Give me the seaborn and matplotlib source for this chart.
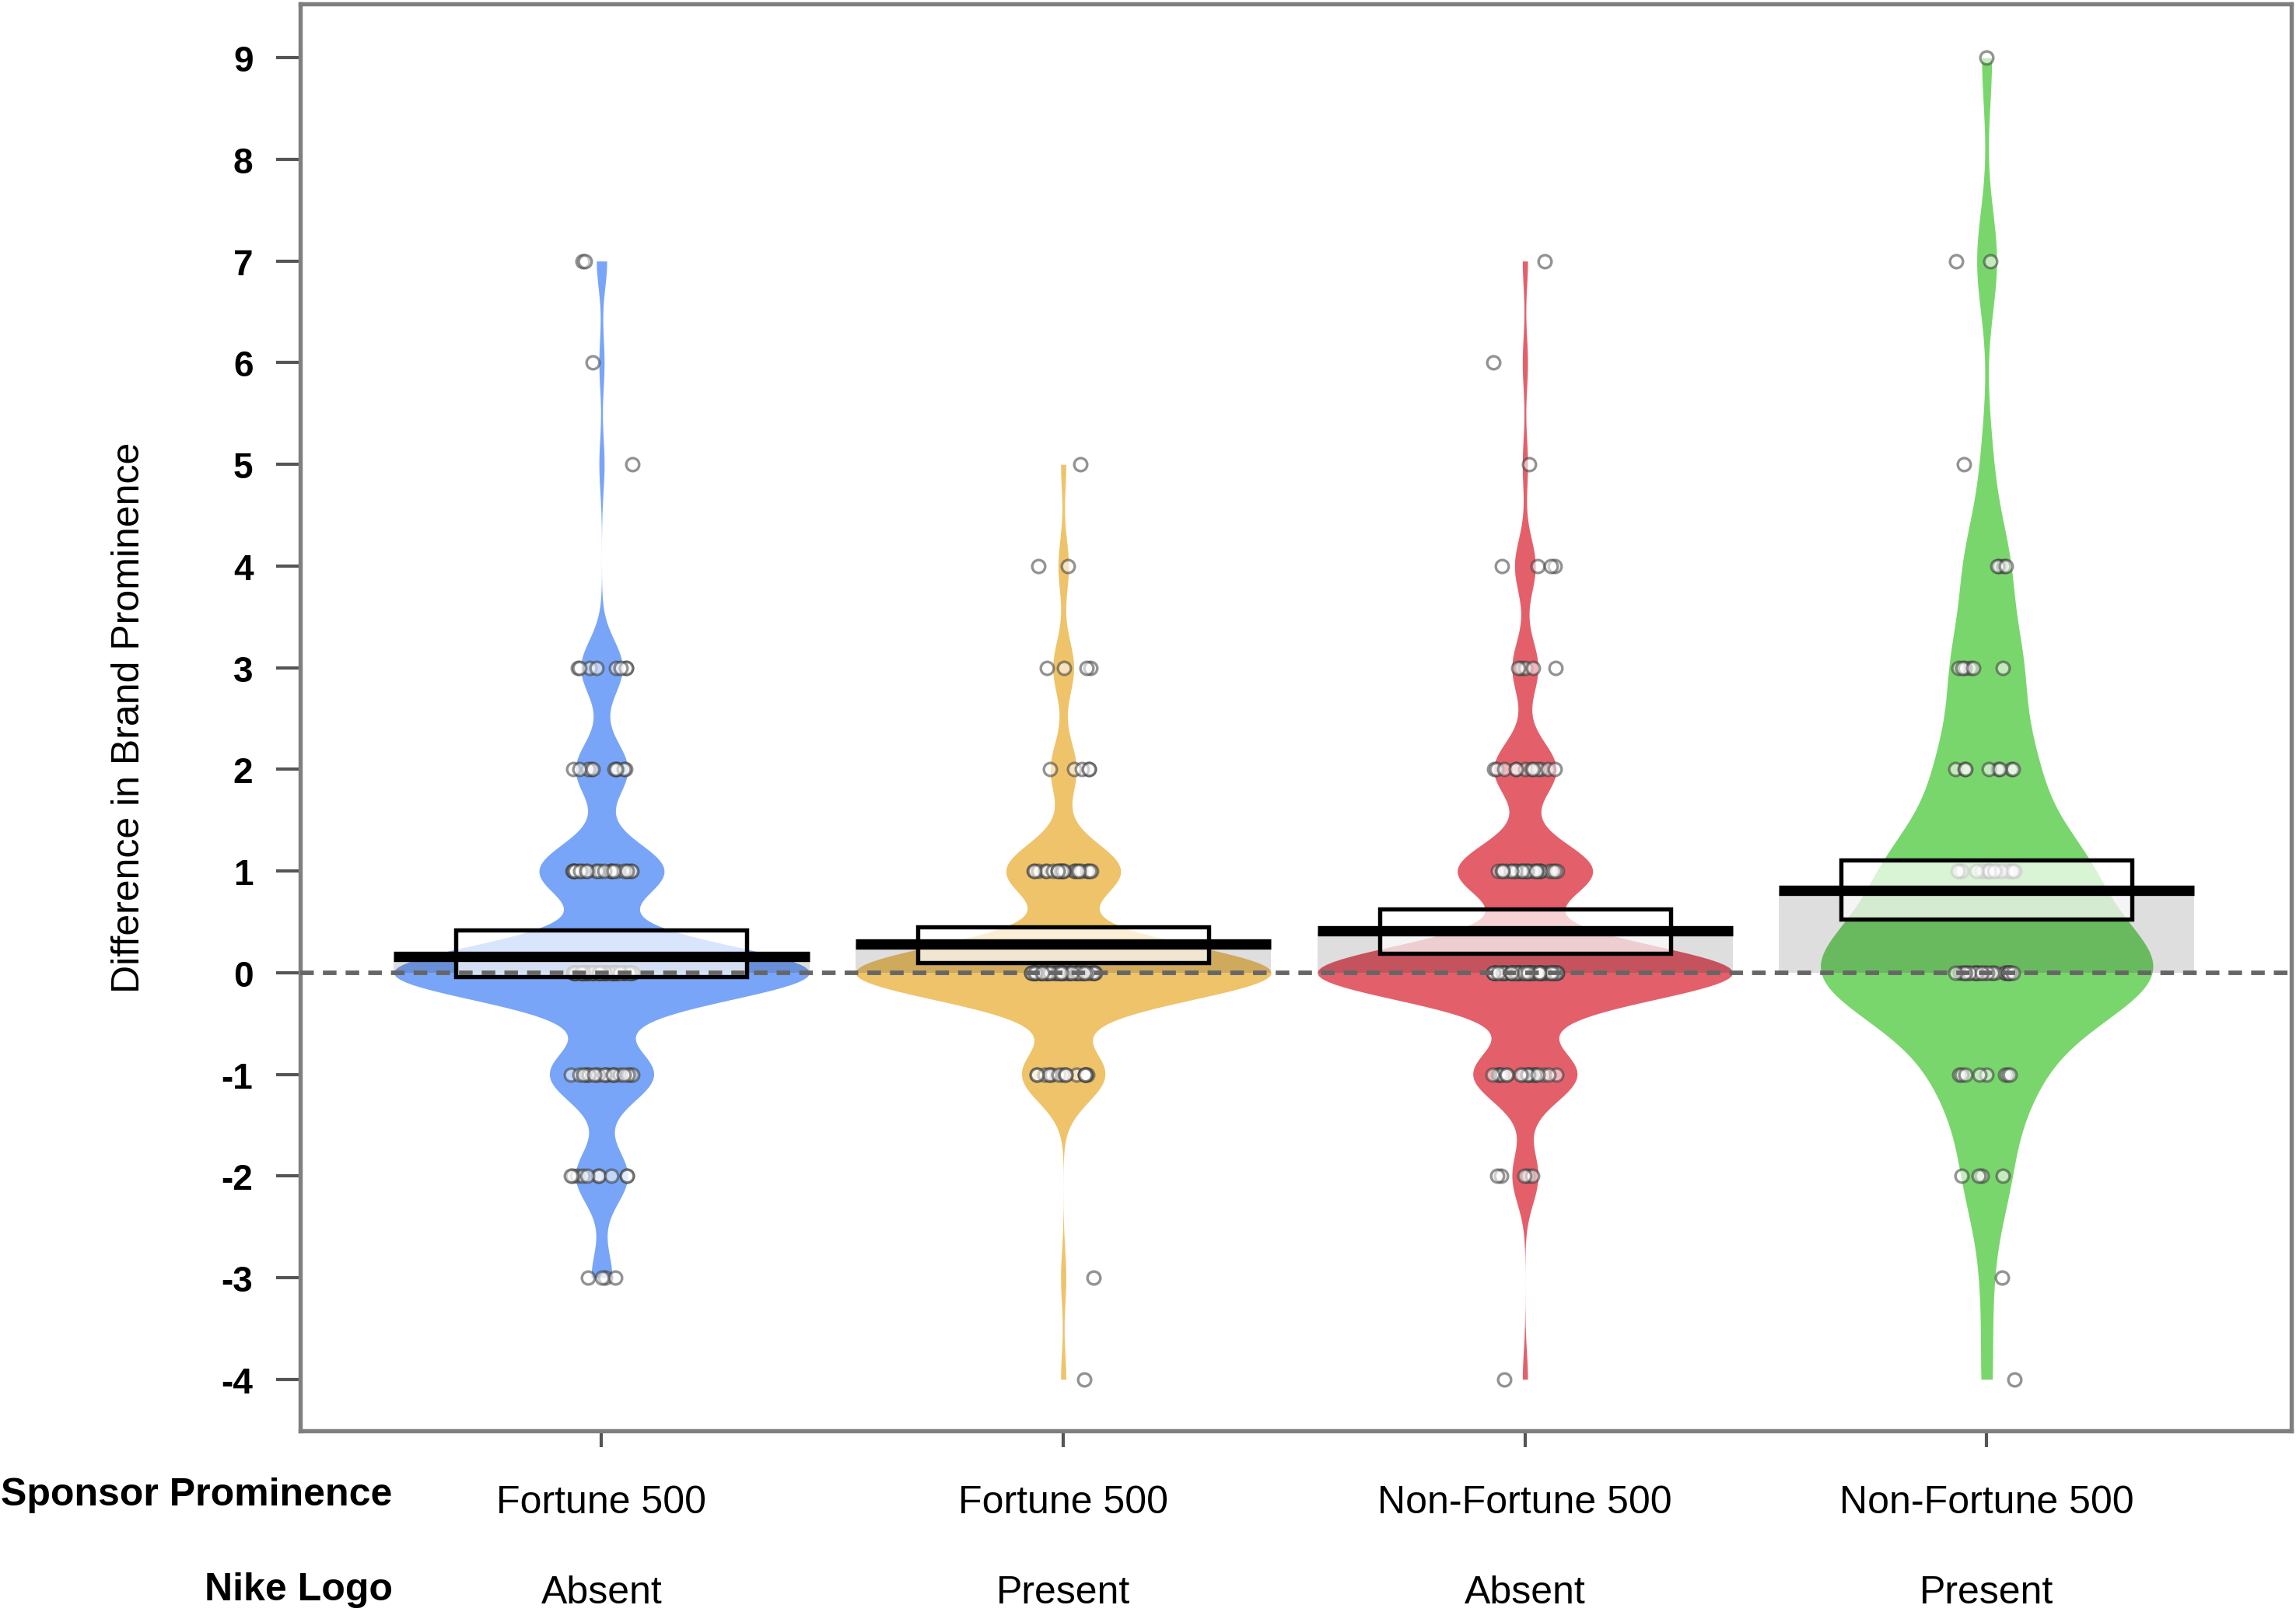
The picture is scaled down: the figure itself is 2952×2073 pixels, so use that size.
import numpy as np
import pandas as pd
import matplotlib
matplotlib.use('Agg')
import matplotlib.pyplot as plt
import matplotlib.transforms as mtransforms
import seaborn as sns

plt.rcParams['font.family'] = ['Liberation Sans', 'DejaVu Sans']
plt.rcParams['axes.unicode_minus'] = False

# Categories (two label rows under the axis)
sponsor = ['Fortune 500', 'Fortune 500', 'Non-Fortune 500', 'Non-Fortune 500']
logo = ['Absent', 'Present', 'Absent', 'Present']

# Score levels and how many observations sit on each level, per group
score_levels = [-4, -3, -2, -1, 0, 1, 2, 3, 4, 5, 6, 7, 8, 9]
counts_f500_absent = [0, 4, 10, 20, 80, 24, 10, 8, 0, 1, 1, 2, 0, 0]
counts_f500_present = [1, 1, 0, 16, 80, 22, 5, 4, 2, 1, 0, 0, 0, 0]
counts_nonf500_absent = [1, 0, 5, 20, 80, 26, 12, 5, 4, 1, 1, 1, 0, 0]
counts_nonf500_present = [1, 1, 4, 8, 30, 17, 8, 6, 4, 1, 0, 2, 0, 1]

# Mean line and HDI box
group_means = [0.16, 0.28, 0.41, 0.81]
hdi_low = [-0.04, 0.10, 0.19, 0.53]
hdi_high = [0.42, 0.45, 0.63, 1.11]

# Styles
bean_colors = ['#78A5F8', '#EEC36A', '#E3606B', '#79D66C']
bean_widths = [0.9, 0.9, 0.9, 0.72]
bean_bw = [0.27, 0.27, 0.27, 0.5]

group_keys = [f"{s} | {l}" for s, l in zip(sponsor, logo)]
all_counts = [counts_f500_absent, counts_f500_present,
              counts_nonf500_absent, counts_nonf500_present]

rows = []
for key, counts in zip(group_keys, all_counts):
    for lvl, n in zip(score_levels, counts):
        rows += [(key, lvl)] * n
df = pd.DataFrame(rows, columns=['group', 'value'])

fig = plt.figure(figsize=(9.84, 6.9133), dpi=300)
ax = fig.add_axes([0.1307, 0.1125, 0.8673, 0.8848])

# Beans (one call per group so each gets its own bandwidth)
for key, col, w, bw in zip(group_keys, bean_colors, bean_widths, bean_bw):
    sub = df[df['group'] == key]
    factor = bw / np.std(sub['value'], ddof=1)
    sns.violinplot(data=sub, x='group', y='value', order=group_keys,
                   color=col, saturation=1, width=w, bw_method=factor,
                   cut=0, inner=None, linewidth=0, density_norm='width',
                   gridsize=400, ax=ax, zorder=2)

# Mean bars (translucent)
sns.barplot(x=group_keys, y=group_means, order=group_keys, width=0.9,
            color='black', alpha=0.13, saturation=1, errorbar=None,
            ax=ax, zorder=3)

# Raw points
np.random.seed(3)
sns.stripplot(data=df, x='group', y='value', order=group_keys, jitter=0.07,
              size=4, color='white', edgecolor='#3a3a3a', linewidth=0.8,
              alpha=0.55, ax=ax, zorder=4)

xs = np.arange(len(group_keys))
# HDI boxes
ax.bar(xs, np.array(hdi_high) - np.array(hdi_low), bottom=hdi_low, width=0.63,
       facecolor=(1, 1, 1, 0.72), edgecolor='black', linewidth=1.3, zorder=5)
# zero reference
ax.axhline(0, color='#666666', lw=1.4, ls=(0, (3, 2)), zorder=6)
# mean lines
ax.hlines(group_means, xs - 0.45, xs + 0.45, colors='black', lw=3.2, zorder=7)

ax.set_xlim(-0.653, 3.66)
ax.set_ylim(-4.504, 9.533)
ax.set_yticks(range(-4, 10))
ax.set_xticks(xs)
ax.set_xticklabels([])
ax.set_xlabel('')
ax.set_ylabel('Difference in Brand Prominence', fontsize=12)
ax.yaxis.set_label_coords(-0.077, 0.5)

for sp in ax.spines.values():
    sp.set_color('#7f7f7f')
    sp.set_linewidth(1.3)
ax.tick_params(axis='y', length=7.5, width=1, color='#555555', pad=7, labelsize=11)
ax.tick_params(axis='x', length=5, width=1, color='#555555')
for lab in ax.get_yticklabels():
    lab.set_fontweight('bold')

# two-row category labels
trans = mtransforms.blended_transform_factory(ax.transData, fig.transFigure)
for i in xs:
    ax.text(i, 0.068, sponsor[i], transform=trans, ha='center', va='center', fontsize=12)
    ax.text(i, 0.012, logo[i], transform=trans, ha='center', va='center', fontsize=12)
fig.text(0.171, 0.073, 'Sponsor Prominence', ha='right', va='center',
         fontsize=12, fontweight='bold')
fig.text(0.171, 0.014, 'Nike Logo', ha='right', va='center',
         fontsize=12, fontweight='bold')

fig.savefig('out.png', dpi=300)
